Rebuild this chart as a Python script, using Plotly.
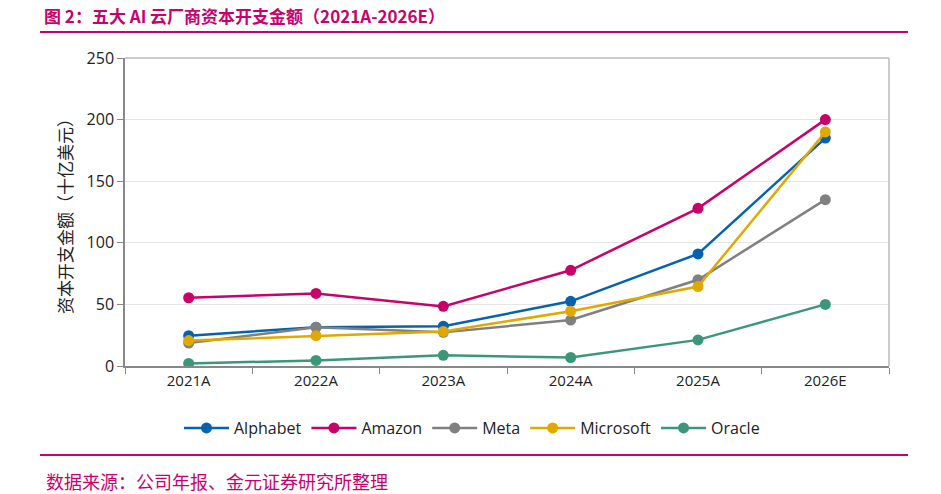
import plotly.graph_objects as go

categories = ["2021A", "2022A", "2023A", "2024A", "2025A", "2026E"]
alphabet = [24.6, 31.5, 32.3, 52.5, 91, 185]
amazon = [55.4, 58.9, 48.4, 77.7, 128, 200]
meta = [18.6, 31.4, 27.3, 37.3, 70, 135]
microsoft = [20.6, 24.6, 28.1, 44.5, 64.5, 190]
oracle = [2.1, 4.5, 8.7, 6.9, 21.2, 50]
yticks = [0, 50, 100, 150, 200, 250]

series = [
    ("Alphabet", alphabet, "#0462B1"),
    ("Amazon", amazon, "#C8026B"),
    ("Meta", meta, "#808080"),
    ("Microsoft", microsoft, "#E2A800"),
    ("Oracle", oracle, "#3A9878"),
]

W, H = 941, 494
L, R, T, B = 125, 52, 58, 128
pw, ph = W - L - R, H - T - B

def px(x):
    return (x - L) / pw

def py(y):
    return (H - B - y) / ph

fig = go.Figure()
for name, vals, color in series:
    fig.add_trace(go.Scatter(
        x=categories, y=vals, name=name, mode="lines+markers",
        line=dict(color=color, width=2.5),
        marker=dict(color=color, size=11),
    ))

font_cn = "Noto Sans CJK SC"
magenta = "#C8026B"

fig.update_layout(
    width=W, height=H,
    margin=dict(l=L, r=R, t=T, b=B),
    paper_bgcolor="white", plot_bgcolor="white",
    font=dict(family="Open Sans, Noto Sans CJK SC", size=14, color="#222"),
    showlegend=True,
    legend=dict(orientation="h", x=px(472), xanchor="center", y=py(428), yanchor="middle",
                font=dict(size=16, family="Open Sans"), itemwidth=45, tracegroupgap=0),
    xaxis=dict(type="category", tickson="boundaries", ticks="outside", ticklen=6,
               tickcolor="#888", showline=True, linecolor="#888", linewidth=1.5,
               mirror=False, showgrid=False, tickfont=dict(size=15),
               range=[-0.5, 5.5]),
    yaxis=dict(range=[0, 250], tickvals=yticks, ticks="outside", ticklen=6,
               tickcolor="#888", showline=True, linecolor="#888", linewidth=1.5,
               gridcolor="#E6E6E6", gridwidth=1, zeroline=False,
               tickfont=dict(size=16),
               title=dict(text="资本开支金额（十亿美元）", standoff=10,
                          font=dict(family=font_cn, size=17, color="#222"))),
    shapes=[
        dict(type="line", xref="paper", yref="paper", x0=px(40), x1=px(908),
             y0=py(32), y1=py(32), line=dict(color=magenta, width=2)),
        dict(type="line", xref="paper", yref="paper", x0=px(40), x1=px(908),
             y0=py(455), y1=py(455), line=dict(color=magenta, width=2)),
        dict(type="line", xref="paper", yref="paper", x0=1, x1=1, y0=0, y1=1,
             line=dict(color="#BBBBBB", width=1.5)),
        dict(type="line", xref="paper", yref="paper", x0=0, x1=1, y0=1, y1=1,
             line=dict(color="#BBBBBB", width=1.5)),
    ],
    annotations=[
        dict(text="<b>图 2：五大 AI 云厂商资本开支金额（2021A-2026E）</b>", xref="paper", yref="paper",
             x=px(42), y=py(15), xanchor="left", yanchor="middle", showarrow=False,
             font=dict(family=font_cn, size=17, color=magenta)),
        dict(text="数据来源：公司年报、金元证券研究所整理", xref="paper", yref="paper",
             x=px(44), y=py(481), xanchor="left", yanchor="middle", showarrow=False,
             font=dict(family=font_cn, size=18, color=magenta)),
    ],
)

fig.write_html("out.html")
